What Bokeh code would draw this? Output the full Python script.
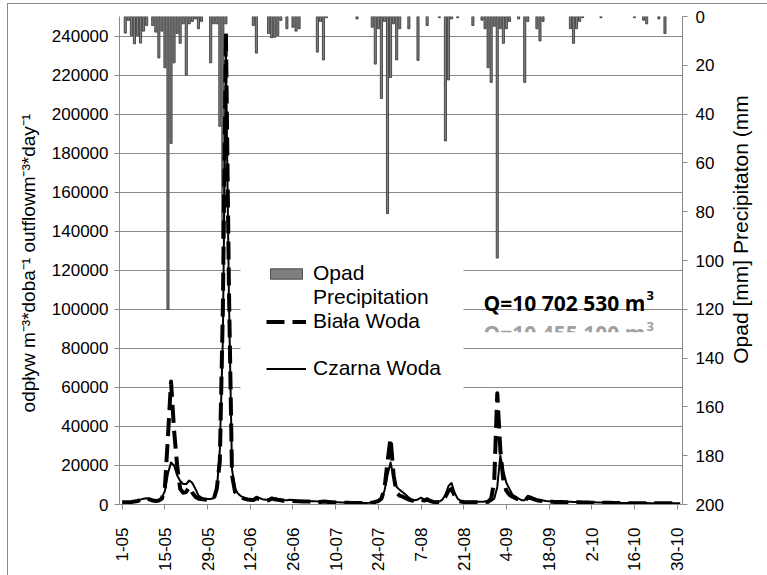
import math
from bokeh.plotting import figure
from bokeh.layouts import row
from bokeh.models import (Range1d, LinearAxis, FixedTicker, BasicTickFormatter, Legend,
                          LegendItem, Label, BoxAnnotation)
from bokeh.embed import file_html
from bokeh.resources import INLINE

# ---------------- data ----------------
tick_days = [0, 14, 28, 42, 56, 70, 84, 98, 112, 126, 140, 154, 168, 182]
tick_labels = ["1-05", "15-05", "29-05", "12-06", "26-06", "10-07", "24-07",
               "7-08", "21-08", "4-09", "18-09", "2-10", "16-10", "30-10"]
flow_ticks = [0, 20000, 40000, 60000, 80000, 100000, 120000, 140000,
              160000, 180000, 200000, 220000, 240000]
precip_ticks = [0, 20, 40, 60, 80, 100, 120, 140, 160, 180, 200]

# daily precipitation [mm]
precip_may = [0, 6.8, 1.6, 7.8, 11.2, 7.8, 10.9, 6.0, 3.7, 0,
              3.7, 6.4, 17, 6, 21, 120, 52, 19, 7, 11,
              3, 24, 3, 2, 1, 5, 2, 0, 0, 19, 3]
precip_jun = [3, 45, 91, 3, 0, 0, 0, 0, 0, 0,
              0, 0, 3.7, 15, 0, 0, 0, 7, 8.7, 8.5,
              7.8, 1.6, 0, 5, 0, 4.4, 6, 5, 0, 0]
precip_jul = [0, 0, 0, 14.6, 2, 17.8, 0.5, 0, 0, 0,
              0, 0, 0, 0, 0, 0, 1, 0, 0, 0,
              0, 4.4, 19.5, 5, 33.6, 2, 80.8, 25, 3, 17.8, 5]
precip_aug = [0, 0, 5, 0, 0, 18, 0, 0, 3.7, 0,
              0, 0, 0.5, 0, 51, 26, 1, 0, 0.5, 0,
              0, 0, 0, 3.7, 0, 0, 1.5, 5, 21, 27, 4]
precip_sep = [99, 5, 11, 5, 2, 0, 0, 1, 0, 27,
              2, 0, 0, 5, 10, 2, 0, 0, 0, 0,
              0, 0, 0, 0, 5, 11, 5, 2, 0.5, 0]
precip_oct = [0, 0, 0, 0, 0.5, 0, 0, 0, 0, 0,
              0, 0, 0, 0, 0, 0.5, 0, 0, 1.5, 3,
              0, 0, 0, 1, 0, 7, 0, 0, 0, 0, 0]

# daily outflow [m3/day] - Czarna Woda
czarna_may = [1200, 1200, 1300, 1400, 1600, 2000, 2500, 3000, 3200, 2800,
              2200, 2000, 2200, 3500, 7000, 16000, 21500, 20000, 15000, 12000,
              10500, 10500, 12300, 11000, 8000, 4500, 3500, 3000, 2800, 2800, 3200]
czarna_jun = [7000, 28000, 85000, 230000, 105000, 18000, 8000, 5500, 4200, 3500,
              3000, 2700, 2600, 4000, 3300, 2700, 2400, 2500, 3600, 3200,
              2800, 2600, 2300, 2200, 2400, 2300, 2100, 2000, 1900, 1800]
czarna_jul = [1800, 1700, 1700, 1600, 1600, 1800, 1700, 1500, 1300, 1200,
              1100, 1000, 1000, 950, 900, 900, 850, 850, 800, 800,
              850, 1000, 1500, 2000, 3500, 7000, 15000, 21500, 14000, 9000, 7500]
czarna_aug = [6300, 5000, 3500, 2500, 2200, 2600, 3500, 2500, 3300, 2300,
              1500, 1400, 1500, 2500, 5000, 9500, 11000, 6000, 3000, 1800,
              1500, 1400, 1400, 1400, 1400, 1400, 1400, 1500, 1600, 1800, 3000]
czarna_sep = [9000, 25000, 17000, 11000, 8000, 5000, 4000, 3000, 2200, 2200,
              4500, 4000, 3300, 2600, 2200, 2000, 1800, 1700, 1600, 1600,
              1500, 1500, 1400, 1400, 1400, 1300, 1300, 1300, 1200, 1200]
czarna_oct = [1200, 1100, 1100, 1000, 1000, 1000, 950, 900, 850, 800,
              800, 800, 750, 750, 750, 700, 700, 700, 750, 750,
              700, 700, 700, 700, 700, 700, 700, 650, 650, 650, 650]

# daily outflow [m3/day] - Biała Woda
biala_may = [1100, 1100, 1200, 1300, 1500, 1800, 2300, 2700, 3000, 2600,
             2000, 1800, 2000, 3000, 9000, 35000, 63000, 38000, 20000, 8000,
             6000, 6500, 9000, 6000, 4000, 3000, 2800, 2500, 2400, 2500, 2800]
biala_jun = [8000, 22000, 100000, 242000, 110000, 15000, 6500, 4500, 3500, 3000,
             2600, 2400, 2300, 3200, 2800, 2300, 2100, 2200, 3000, 2700,
             2400, 2200, 1900, 1800, 1900, 1800, 1700, 1600, 1500, 1500]
biala_jul = [1500, 1400, 1400, 1300, 1300, 1500, 1400, 1200, 1100, 1000,
             950, 900, 900, 850, 800, 800, 800, 750, 750, 750,
             800, 900, 1300, 1800, 3000, 8000, 22000, 34000, 15000, 6000, 4500]
biala_aug = [4000, 3200, 2500, 2000, 1800, 2000, 2600, 2000, 2400, 1800,
             1300, 1200, 1300, 2000, 4000, 7000, 8000, 4500, 2200, 1500,
             1300, 1200, 1200, 1200, 1200, 1200, 1200, 1300, 1400, 3000, 12000]
biala_sep = [57000, 28000, 12000, 7000, 5000, 4000, 3200, 2500, 2000, 1900,
             3500, 3300, 2700, 2200, 1900, 1700, 1500, 1400, 1400, 1300,
             1300, 1300, 1200, 1200, 1200, 1100, 1100, 1100, 1000, 1000]
biala_oct = [1000, 950, 950, 900, 900, 900, 850, 850, 800, 800,
             750, 750, 700, 700, 700, 700, 650, 650, 700, 700,
             700, 650, 650, 650, 650, 650, 600, 600, 600, 600, 600]

precip = precip_may + precip_jun + precip_jul + precip_aug + precip_sep + precip_oct
czarna = czarna_may + czarna_jun + czarna_jul + czarna_aug + czarna_sep + czarna_oct
biala = biala_may + biala_jun + biala_jul + biala_aug + biala_sep + biala_oct
days = list(range(len(czarna)))

GRAY = "#8a8a8a"
FONT = "Liberation Sans"

p = figure(width=727, height=575, output_backend="svg", toolbar_location=None,
           x_range=Range1d(-0.9, 183.75), y_range=Range1d(0, 250000),
           min_border_left=119, min_border_right=45, min_border_top=16,
           min_border_bottom=71)
p.outline_line_color = None
p.background_fill_color = "white"
p.border_fill_alpha = 0
p.extra_y_ranges = {"precip": Range1d(200, 0)}

# white area behind the legend (hides the grid lines there)
legend_bg = BoxAnnotation(left=121, right=344, bottom=102, top=264,
                          left_units="screen", right_units="screen",
                          bottom_units="screen", top_units="screen",
                          fill_color="white", fill_alpha=1, line_alpha=0,
                          level="underlay")
p.add_layout(legend_bg)

# precipitation bars hanging from the top (inverted right axis)
bar_x = [d for d, v in zip(days, precip) if v > 0]
bar_v = [v for v in precip if v > 0]
bars = p.vbar(x=bar_x, top=bar_v, bottom=0, width=0.7, y_range_name="precip",
              fill_color="#7f7f7f", line_color="#303030", line_width=0.8)

biala_r = p.line(days, biala, line_color="black", line_width=4,
                 line_dash="18 8", line_join="round")
czarna_r = p.line(days, czarna, line_color="black", line_width=2,
                  line_join="round")

blank1 = p.line(x=[], y=[], line_alpha=0)
blank2 = p.line(x=[], y=[], line_alpha=0)

# x axis
xa = p.xaxis[0]
xa.ticker = FixedTicker(ticks=tick_days)
xa.major_label_overrides = {d: l for d, l in zip(tick_days, tick_labels)}
xa.major_label_orientation = math.pi / 2
xa.major_label_standoff = 18
xa.major_tick_in = 0
xa.major_tick_out = 5
xa.minor_tick_line_color = None
xa.axis_line_color = GRAY
xa.major_tick_line_color = GRAY
xa.major_label_text_font = FONT
xa.major_label_text_font_size = "17px"
xa.major_label_text_color = "black"

# left axis
ya = p.yaxis[0]
ya.ticker = FixedTicker(ticks=flow_ticks)
ya.formatter = BasicTickFormatter(use_scientific=False)
ya.major_tick_in = 0
ya.major_tick_out = 5
ya.major_label_standoff = 6
ya.minor_tick_line_color = None
ya.axis_line_color = GRAY
ya.major_tick_line_color = GRAY
ya.major_label_text_font = FONT
ya.major_label_text_font_size = "17px"
ya.major_label_text_color = "black"
ya.axis_label = "odpływ m⁻³*doba⁻¹  outflowm⁻³*day⁻¹"
ya.axis_label_text_font = FONT
ya.axis_label_text_font_size = "19px"
ya.axis_label_text_font_style = "normal"
ya.axis_label_text_color = "black"
ya.axis_label_standoff = 10

# right axis (precipitation)
ra = LinearAxis(y_range_name="precip", ticker=FixedTicker(ticks=precip_ticks))
ra.major_tick_in = 0
ra.major_tick_out = 5
ra.major_label_standoff = 8
ra.minor_tick_line_color = None
ra.axis_line_color = GRAY
ra.major_tick_line_color = GRAY
ra.major_label_text_font = FONT
ra.major_label_text_font_size = "17px"
ra.major_label_text_color = "black"
p.add_layout(ra, "right")

p.xgrid.visible = False
p.ygrid.ticker = FixedTicker(ticks=flow_ticks[1:])
p.ygrid.grid_line_color = GRAY
p.ygrid.grid_line_width = 1

legend = Legend(items=[
    LegendItem(label="Opad", renderers=[bars]),
    LegendItem(label="Precipitation", renderers=[blank1]),
    LegendItem(label="Biała Woda", renderers=[biala_r]),
    LegendItem(label=" ", renderers=[blank2]),
    LegendItem(label="Czarna Woda", renderers=[czarna_r]),
], location=(147, 124))
legend.glyph_width = 40
legend.glyph_height = 13
legend.label_height = 23
legend.spacing = 0
legend.padding = 0
legend.margin = 0
legend.label_standoff = 7
legend.label_text_font = FONT
legend.label_text_font_size = "21px"
legend.label_text_color = "black"
legend.border_line_color = None
legend.background_fill_alpha = 0
p.add_layout(legend)

# volume annotations
q1 = Label(x=364, y=202, x_units="screen", y_units="screen", text="Q=10 702 530 m",
           text_font="Open Sans", text_font_style="bold", text_font_size="21px",
           text_color="black", text_baseline="alphabetic")
q1s = Label(x=527, y=209, x_units="screen", y_units="screen", text="3",
            text_font="Open Sans", text_font_style="bold", text_font_size="13px",
            text_color="black", text_baseline="alphabetic")
q2 = Label(x=364, y=171.5, x_units="screen", y_units="screen", text="Q=10 455 100 m",
           text_font="Open Sans", text_font_style="bold", text_font_size="21px",
           text_color="#a0a0a0", text_baseline="alphabetic")
q2s = Label(x=527, y=178.5, x_units="screen", y_units="screen", text="3",
            text_font="Open Sans", text_font_style="bold", text_font_size="13px",
            text_color="#a0a0a0", text_baseline="alphabetic")
for lab in (q1, q1s, q2, q2s):
    p.add_layout(lab)
clip_box = BoxAnnotation(left=355, right=545, bottom=158, top=172.3,
                         left_units="screen", right_units="screen",
                         bottom_units="screen", top_units="screen",
                         fill_color="white", fill_alpha=1, line_alpha=0)
p.add_layout(clip_box)

# narrow strip on the right carrying the precipitation axis title
side = figure(width=40, height=575, output_backend="svg", toolbar_location=None,
              x_range=Range1d(0, 40), y_range=Range1d(0, 575),
              min_border_left=0, min_border_right=0, min_border_top=0,
              min_border_bottom=0)
side.axis.visible = False
side.grid.visible = False
side.outline_line_color = None
side.background_fill_alpha = 0
side.border_fill_alpha = 0
side.add_layout(Label(x=13, y=324, text="Opad [mm] Precipitaton (mm",
                      angle=math.pi / 2, text_align="center",
                      text_baseline="middle", text_font=FONT,
                      text_font_size="21px", text_color="black"))

# outer chart border: only its left and top edges fall inside the picture
layout = row(p, side, spacing=0, styles={
    "background": ("linear-gradient(#8a8a8a,#8a8a8a) 7px 3px / 1px 100% no-repeat, "
                   "linear-gradient(#8a8a8a,#8a8a8a) 7px 3px / 100% 1px no-repeat, "
                   "white")})

open("out.html", "w").write(file_html(layout, INLINE))
